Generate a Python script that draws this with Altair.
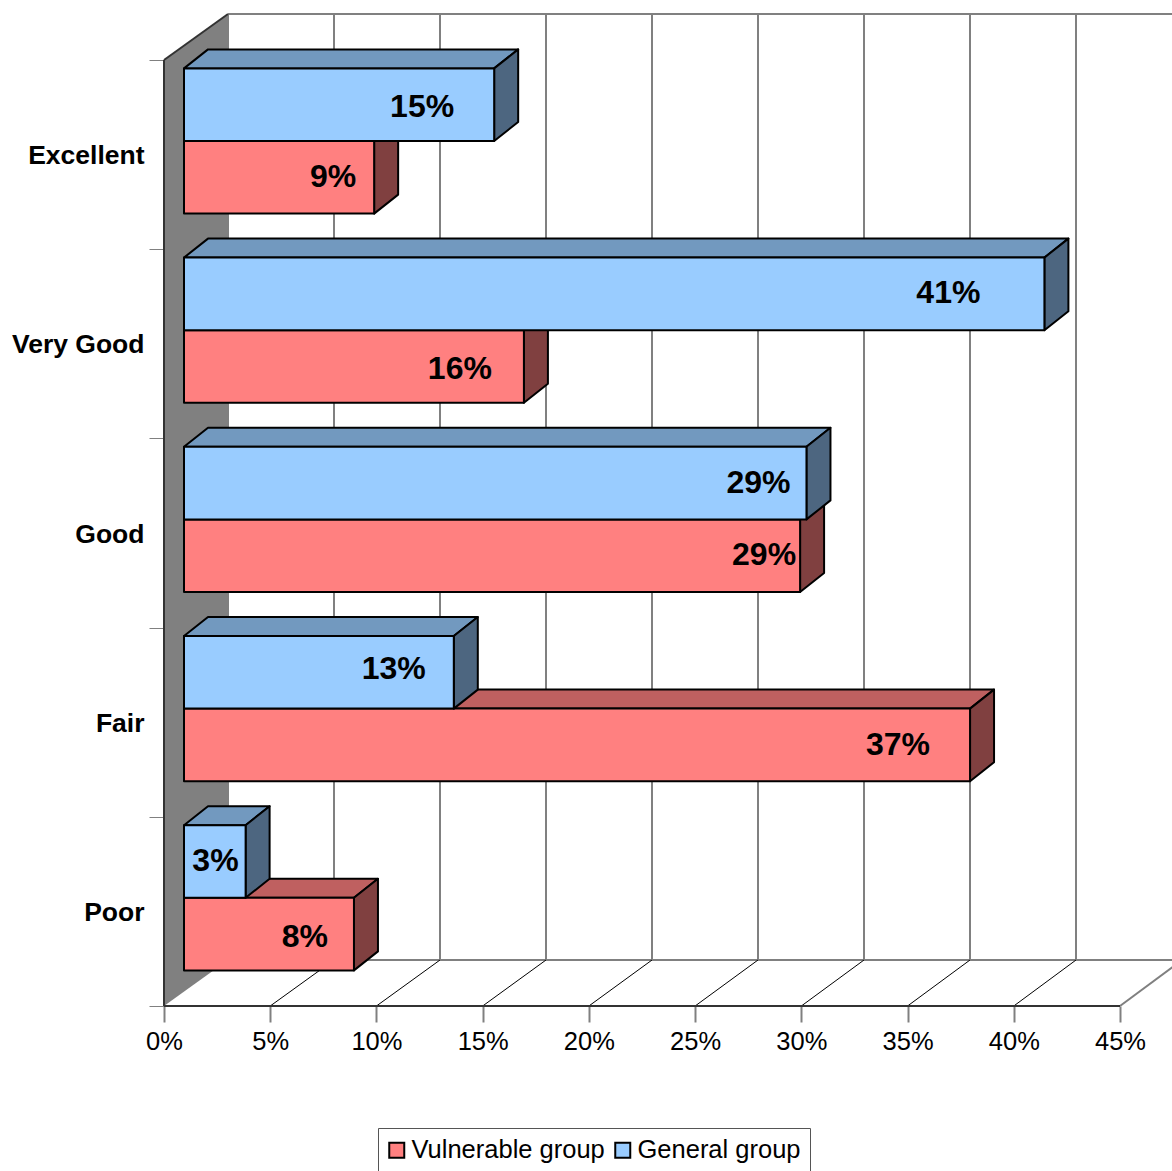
import altair as alt
import pandas as pd

# Self-rated health by group, in percent
categories = ["Excellent", "Very Good", "Good", "Fair", "Poor"]
vulnerable = [8.95, 16.0, 29.0, 37.0, 8.0]
general = [14.6, 40.5, 29.3, 12.7, 2.9]
x_ticks = [0, 5, 10, 15, 20, 25, 30, 35, 40, 45]
series_names = ["Vulnerable group", "General group"]

# Three-dimensional projection, in axis units (percent across, rows down)
PLOT_W, PLOT_H = 956, 946
PCT_PX = PLOT_W / 45
ROW_PX = PLOT_H / 5
WALL_DX = 64 / PCT_PX
WALL_DY = 46 / ROW_PX
BACK_SCALE = 106 / (5 * PCT_PX)  # the back wall recedes slightly
BAR_X0 = 20 / PCT_PX
BAR_DX = 24 / PCT_PX
BAR_DY = 19 / ROW_PX
BAR_TOP = 8.4 / ROW_PX
BAR_THICK = 72.6 / ROW_PX

FRONT = {"General group": "#99CCFF", "Vulnerable group": "#FF8080"}
TOP = {"General group": "#7299BF", "Vulnerable group": "#BF6060"}
SIDE = {"General group": "#4D6680", "Vulnerable group": "#804040"}

# Where each value label sits relative to its bar end and bar middle, in pixels
general_inset = [40, 64, 16, 28, 7]
vulnerable_inset = [18, 32, 4, 40, 26]
general_lift = [2, -1, 0, -3, -1]
vulnerable_lift = [0, 2, -1, 0, 3]


def percent_text(value):
    return f"{int(value + 0.5)}%"


def bar_faces(face_id, series, value, top):
    """Front, top and side of one bar as stacked area polygons."""
    x0, x1 = BAR_X0, BAR_X0 + value
    bottom = top + BAR_THICK
    rows = []
    add = lambda name, fill, pts: rows.extend(
        {"face": f"{face_id}-{name}", "fill": fill, "x": x, "y": y, "y2": y2}
        for x, y, y2 in pts
    )
    add("top", TOP[series], [
        (x0, top, top),
        (x0 + BAR_DX, top - BAR_DY, top),
        (x1, top - BAR_DY, top),
        (x1 + BAR_DX, top - BAR_DY, top - BAR_DY),
    ])
    add("side", SIDE[series], [
        (x1, top, bottom),
        (x1 + BAR_DX, top - BAR_DY, bottom - BAR_DY),
    ])
    add("front", FRONT[series], [(x0, top, bottom), (x1, top, bottom)])
    return rows


face_rows, label_rows = [], []
for i, cat in enumerate(categories):
    top_g = i + BAR_TOP
    top_v = top_g + BAR_THICK
    # The lower bar goes first so the upper one overlaps its top face
    face_rows += bar_faces(f"{i}v", series_names[0], vulnerable[i], top_v)
    face_rows += bar_faces(f"{i}g", series_names[1], general[i], top_g)
    label_rows.append({"x": BAR_X0 + general[i] - general_inset[i] / PCT_PX,
                       "y": top_g + BAR_THICK / 2 + general_lift[i] / ROW_PX,
                       "text": percent_text(general[i])})
    label_rows.append({"x": BAR_X0 + vulnerable[i] - vulnerable_inset[i] / PCT_PX,
                       "y": top_v + BAR_THICK / 2 + vulnerable_lift[i] / ROW_PX,
                       "text": percent_text(vulnerable[i])})
faces = pd.DataFrame(face_rows)
labels = pd.DataFrame(label_rows)

# Chart walls and floor
x_end = 48.0
back_x = [t * BACK_SCALE + WALL_DX for t in x_ticks if t * BACK_SCALE + WALL_DX <= x_end]
grid_rows, thin_rows, dark_rows = [], [], []


def segment(rows, key, *pts):
    rows.extend({"seg": key, "ord": n, "x": p[0], "y": p[1]} for n, p in enumerate(pts))


for n, bx in enumerate(back_x):
    segment(grid_rows, f"v{n}", (bx, -WALL_DY), (bx, 5 - WALL_DY))
segment(grid_rows, "top", (WALL_DX, -WALL_DY), (x_end, -WALL_DY))
segment(grid_rows, "back", (WALL_DX, 5 - WALL_DY), (x_end, 5 - WALL_DY))
segment(grid_rows, "end", (45, 5), (45 * BACK_SCALE + WALL_DX, 5 - WALL_DY))
for t in x_ticks[1:-1]:
    segment(thin_rows, f"d{t}", (t, 5), (t * BACK_SCALE + WALL_DX, 5 - WALL_DY))
segment(dark_rows, "wall-top", (0, 0), (WALL_DX, -WALL_DY))
segment(dark_rows, "wall-left", (0, 0), (0, 5))
segment(dark_rows, "floor-front", (0, 5), (45, 5))

wall = pd.DataFrame([
    {"x": 0, "y": 0, "y2": 5},
    {"x": WALL_DX, "y": -WALL_DY, "y2": 5 - WALL_DY},
])

axis_font = "Liberation Sans"

x_scale = alt.Scale(domain=[0, 45], nice=False, zero=False)
y_scale = alt.Scale(domain=[0, 5], reverse=True, nice=False, zero=False)
x_axis = alt.Axis(
    values=x_ticks, labelExpr="datum.value + '%'", grid=False,
    tickSize=16, tickWidth=2, tickColor="#808080",
    domain=False, labelFontSize=25.5, labelFont=axis_font, labelColor="#000000",
    labelPadding=7, labelFlush=False, labelOverlap=False,
)
X = alt.X("x:Q", scale=x_scale, axis=x_axis, title=None)
Y = alt.Y("y:Q", scale=y_scale, axis=None, title=None, stack=None)

# Invisible layer that carries the category axis
axis_layer = alt.Chart(pd.DataFrame({"cat": categories, "x": [0] * 5})).mark_point(opacity=0).encode(
    x=X,
    y=alt.Y("cat:N", sort=categories, title=None,
            scale=alt.Scale(type="band", paddingInner=0, paddingOuter=0),
            axis=alt.Axis(
                tickBand="extent", tickSize=15, tickWidth=1, tickColor="#808080",
                domain=False, labelFontSize=26.5, labelFontWeight="bold", labelFont=axis_font,
                labelColor="#000000", labelPadding=5, labelLimit=400, labelOffset=1,
            )),
)


def lines(rows, color, width):
    return alt.Chart(pd.DataFrame(rows)).mark_line(
        color=color, strokeWidth=width, clip=False
    ).encode(x=X, y=alt.Y("y:Q", scale=y_scale, axis=None, title=None),
             detail="seg:N", order="ord:Q")


wall_layer = alt.Chart(wall).mark_area(color="#808080").encode(
    x=X, y=Y, y2="y2:Q"
)

face_layer = alt.Chart(faces).mark_area(stroke="#000000", strokeWidth=2, strokeJoin="round").encode(
    x=X, y=Y, y2="y2:Q",
    fill=alt.Fill("fill:N", scale=None),
    detail="face:N",
)

label_layer = alt.Chart(labels).mark_text(
    align="right", baseline="middle", font=axis_font, fontSize=32, fontWeight="bold", color="#000000"
).encode(x=X, y=alt.Y("y:Q", scale=y_scale, axis=None, title=None), text="text:N")

legend_layer = alt.Chart(pd.DataFrame({"series": series_names, "x": [0, 0], "y": [0, 0]})).mark_square(
    size=0
).encode(
    x=X, y=alt.Y("y:Q", scale=y_scale, axis=None, title=None),
    color=alt.Color("series:N", sort=series_names, title=None,
                    scale=alt.Scale(domain=series_names,
                                    range=[FRONT[series_names[0]], FRONT[series_names[1]]]),
                    legend=alt.Legend(
                        orient="none", legendX=214, legendY=1068, direction="horizontal",
                        columns=2, symbolType="square", symbolSize=225, symbolStrokeWidth=2,
                        symbolStrokeColor="#000000", symbolOpacity=1, symbolOffset=-3,
                        labelFontSize=25.5, labelFont=axis_font, labelColor="#000000",
                        labelOffset=2, columnPadding=6, padding=9,
                        strokeColor="#555555", labelLimit=400,
                    )),
)

chart = alt.layer(
    axis_layer,
    lines(grid_rows, "#808080", 2),
    wall_layer,
    lines(thin_rows, "#000000", 1),
    lines(dark_rows, "#333333", 2),
    face_layer,
    label_layer,
    legend_layer,
).resolve_scale(y="independent").properties(
    width=PLOT_W,
    height=PLOT_H,
    autosize=alt.AutoSizeParams(type="none"),
    padding={"left": 164, "top": 60, "right": 52, "bottom": 165},
    background="#FFFFFF",
).configure_view(stroke=None)

chart.save("out.html", embed_options={"renderer": "svg", "actions": False})
